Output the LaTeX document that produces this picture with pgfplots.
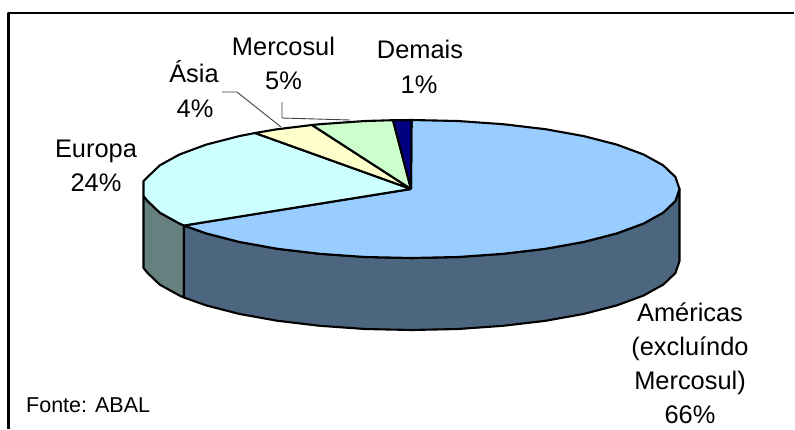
\documentclass[border=0pt]{standalone}
\usepackage{fontspec}
\setmainfont{Liberation Sans}
\usepackage{pgfplots}
\pgfplotsset{compat=1.18}
% Colours of the sectors and their shaded walls
\definecolor{amTop}{HTML}{99CCFF}
\definecolor{amSide}{HTML}{4D6680}
\definecolor{euTop}{HTML}{CCFFFF}
\definecolor{euSide}{HTML}{668080}
\definecolor{asTop}{HTML}{FFFFCC}
\definecolor{meTop}{HTML}{CCFFCC}
\definecolor{deTop}{HTML}{000080}
\definecolor{leader}{HTML}{404040}
\begin{document}
\begin{tikzpicture}
\begin{axis}[
  scale only axis, width=795bp, height=430bp,
  xmin=0, xmax=795, ymin=0, ymax=430, y dir=reverse,
  hide axis, clip=false, enlargelimits=false,
  every axis plot/.append style={no markers, line join=round},
  wedge/.style={draw=black, line width=2.1bp},
]
% Page background
\addplot[draw=none, fill=white] coordinates {(0,0) (795,0) (795,430) (0,430)};
% Chart frame, open on the right and at the lower edge
\addplot[draw=black, line width=2.5bp] coordinates {(8.5,428.7) (8.5,13) (793.7,13)};

% Outer walls
\addplot[wedge, fill=euSide] coordinates {
  (143.5,196) (147.6,201) (159.7,212.6) (179.4,223.5) (184,225.5)
  (184,297.5) (179.4,295.5) (159.7,284.6) (147.6,273) (143.5,268) (143.5,196)};
\addplot[wedge, fill=amSide] coordinates {
  (184,225.5) (206.2,233.4) (239.2,241.9) (277.5,248.8) (319.8,253.8) (365,257)
  (411.5,258) (458,257) (503.2,253.8) (545.5,248.8) (583.8,241.9) (616.8,233.4)
  (643.6,223.5) (663.3,212.6) (675.4,201) (679.5,189)
  (679.5,261) (675.4,273) (663.3,284.6) (643.6,295.5) (616.8,305.4) (583.8,313.9)
  (545.5,320.8) (503.2,325.8) (458,329) (411.5,330) (365,329) (319.8,325.8)
  (277.5,320.8) (239.2,313.9) (206.2,305.4) (184,297.5) (184,225.5)};

% Top faces of the sectors: Américas 66, Europa 24, Ásia 4, Mercosul 5, Demais 1
\addplot[wedge, fill=amTop] coordinates {
  (411,189) (411.5,120) (458,121) (503.2,124.2) (545.5,129.2) (583.8,136.1)
  (616.8,144.6) (643.6,154.5) (663.3,165.4) (675.4,177) (679.5,189) (675.4,201)
  (663.3,212.6) (643.6,223.5) (616.8,233.4) (583.8,241.9) (545.5,248.8) (503.2,253.8)
  (458,257) (411.5,258) (365,257) (319.8,253.8) (277.5,248.8) (239.2,241.9)
  (206.2,233.4) (184,225.5) (411,189)};
\addplot[wedge, fill=euTop] coordinates {
  (411,189) (184,225.5) (179.4,223.5) (159.7,212.6) (147.6,201) (143.5,196) (143.5,181)
  (147.6,177) (159.7,165.4) (179.4,154.5) (206.2,144.6) (239.2,136.1) (255,133) (411,189)};
\addplot[wedge, fill=asTop] coordinates {
  (411,189) (255,133) (277.5,129.2) (312,125) (411,189)};
\addplot[wedge, fill=meTop] coordinates {
  (411,189) (312,125) (319.8,124.2) (365,121) (393,120.2) (411,189)};
\addplot[wedge, fill=deTop] coordinates {
  (411,189) (393,120.2) (411.5,120) (411,189)};

% Leader lines of the two small sectors
\addplot[leader, line width=0.9bp] coordinates {(222,92) (237,92) (281,127)};
\addplot[leader, line width=0.9bp] coordinates {(282,102) (282,118) (350,120)};

% Sector labels
\def\lab#1#2#3{\node[anchor=base, inner sep=0pt, font=\fontsize{25.4bp}{30bp}\selectfont] at (axis cs:#1,#2) {#3};}
\lab{283.5}{55}{Mercosul}
\lab{283.5}{89}{5\%}
\lab{420}{58}{Demais}
\lab{419}{93}{1\%}
\lab{194}{82}{Ásia}
\lab{195}{117}{4\%}
\lab{96}{157}{Europa}
\lab{96}{191}{24\%}
\lab{690}{321}{Américas}
\lab{690}{355}{(excluíndo}
\lab{690}{389}{Mercosul)}
\lab{690}{423}{66\%}
\node[anchor=base west, inner sep=0pt, font=\fontsize{21.5bp}{26bp}\selectfont] at (axis cs:26,412) {Fonte: ABAL};
\end{axis}
\end{tikzpicture}
\end{document}
